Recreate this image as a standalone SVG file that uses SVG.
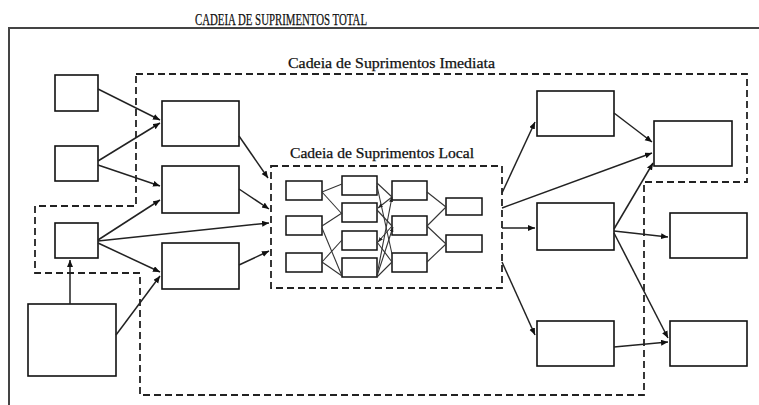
<svg xmlns="http://www.w3.org/2000/svg" width="759" height="405" viewBox="0 0 759 405">
<style>
.box{fill:#fff;stroke:#111;stroke-width:1.6}
.sbox{fill:#fff;stroke:#111;stroke-width:1.5}
.dash{fill:none;stroke:#222;stroke-width:1.8;stroke-dasharray:7 4}
.frame{fill:none;stroke:#444;stroke-width:2}
.arr{fill:none;stroke:#222;stroke-width:1.5;marker-end:url(#ah)}
.ln{fill:none;stroke:#333;stroke-width:1.1}
.lna{fill:none;stroke:#333;stroke-width:1.1;marker-end:url(#ahs)}
.lbl{font-family:"Liberation Serif","Times New Roman",serif;fill:#111;stroke:#111;stroke-width:0.25}
</style>
<defs>
<marker id="ah" markerUnits="userSpaceOnUse" markerWidth="8" markerHeight="7" refX="7" refY="3" orient="auto"><path d="M0,0 L7,3 L0,6 z" fill="#111"/></marker>
<marker id="ahs" markerUnits="userSpaceOnUse" markerWidth="6" markerHeight="5" refX="5" refY="2" orient="auto"><path d="M0,0 L5,2 L0,4 z" fill="#222"/></marker>
</defs>
<rect width="759" height="405" fill="#fff"/>

<g id="total">
<path class="frame" d="M9,405 V28 H759"/>
<text class="lbl" x="195" y="25" font-size="16" textLength="172" lengthAdjust="spacingAndGlyphs">CADEIA DE SUPRIMENTOS TOTAL</text>
</g>

<g id="imediata">
<path class="dash" d="M136,74 H747 V182 H644 V395 H140 V273 H35 V206 H136 Z"/>
<text class="lbl" x="288" y="68" font-size="15" textLength="207" lengthAdjust="spacingAndGlyphs">Cadeia de Suprimentos Imediata</text>
</g>

<g id="local">
<rect class="dash" x="271" y="166" width="231" height="122"/>
<text class="lbl" x="290" y="158" font-size="14" textLength="184" lengthAdjust="spacingAndGlyphs">Cadeia de Suprimentos Local</text>
</g>

<g id="n-a"><rect class="box" x="55" y="75" width="43" height="36"/></g>
<g id="n-b"><rect class="box" x="55" y="146" width="43" height="35"/></g>
<g id="n-c"><rect class="box" x="55" y="223" width="43" height="35"/></g>
<g id="n-d"><rect class="box" x="28" y="304" width="88" height="72"/></g>
<g id="n-e"><rect class="box" x="162" y="101" width="77" height="45"/></g>
<g id="n-f"><rect class="box" x="162" y="166" width="77" height="47"/></g>
<g id="n-g"><rect class="box" x="162" y="243" width="77" height="46"/></g>

<g id="n-l1"><rect class="sbox" x="286" y="181" width="36" height="19"/></g>
<g id="n-l2"><rect class="sbox" x="286" y="216" width="36" height="19"/></g>
<g id="n-l3"><rect class="sbox" x="286" y="253" width="36" height="19"/></g>
<g id="n-l4"><rect class="sbox" x="342" y="176" width="35" height="19"/></g>
<g id="n-l5"><rect class="sbox" x="342" y="203" width="35" height="19"/></g>
<g id="n-l6"><rect class="sbox" x="342" y="231" width="35" height="19"/></g>
<g id="n-l7"><rect class="sbox" x="342" y="258" width="35" height="19"/></g>
<g id="n-l8"><rect class="sbox" x="392" y="181" width="35" height="19"/></g>
<g id="n-l9"><rect class="sbox" x="392" y="216" width="35" height="19"/></g>
<g id="n-l10"><rect class="sbox" x="392" y="253" width="35" height="19"/></g>
<g id="n-l11"><rect class="sbox" x="446" y="198" width="36" height="17"/></g>
<g id="n-l12"><rect class="sbox" x="446" y="235" width="36" height="17"/></g>

<g id="n-h"><rect class="box" x="537" y="91" width="77" height="45"/></g>
<g id="n-i"><rect class="box" x="654" y="121" width="78" height="45"/></g>
<g id="n-j"><rect class="box" x="537" y="203" width="77" height="47"/></g>
<g id="n-k"><rect class="box" x="670" y="213" width="77" height="45"/></g>
<g id="n-l"><rect class="box" x="537" y="321" width="77" height="45"/></g>
<g id="n-m"><rect class="box" x="670" y="321" width="77" height="45"/></g>

<g id="connectors">
<line class="arr" x1="98" y1="89" x2="160" y2="120"/>
<line class="arr" x1="98" y1="161" x2="160" y2="123"/>
<line class="arr" x1="98" y1="165" x2="160" y2="186"/>
<line class="arr" x1="98" y1="240" x2="160" y2="200"/>
<line class="arr" x1="98" y1="241" x2="269" y2="223"/>
<line class="arr" x1="98" y1="243" x2="160" y2="272"/>
<line class="arr" x1="70" y1="304" x2="70" y2="260"/>
<line class="arr" x1="116" y1="335" x2="160" y2="276"/>
<line class="arr" x1="239" y1="136" x2="268" y2="178"/>
<line class="arr" x1="239" y1="189" x2="269" y2="209"/>
<line class="arr" x1="239" y1="265" x2="269" y2="251"/>

<line class="ln" x1="322" y1="192" x2="342" y2="184"/>
<line class="ln" x1="322" y1="192" x2="342" y2="214"/>
<line class="ln" x1="322" y1="226" x2="342" y2="213"/>
<line class="ln" x1="322" y1="228" x2="342" y2="276"/>
<line class="ln" x1="322" y1="262" x2="342" y2="240"/>
<line class="ln" x1="322" y1="262" x2="342" y2="276"/>

<line class="ln" x1="377" y1="183" x2="392" y2="197"/>
<line class="ln" x1="377" y1="186" x2="392" y2="254"/>
<line class="lna" x1="392" y1="197" x2="378" y2="208"/>
<line class="ln" x1="377" y1="210" x2="392" y2="226"/>
<line class="lna" x1="392" y1="226" x2="378" y2="242"/>
<line class="ln" x1="377" y1="242" x2="392" y2="262"/>
<line class="lna" x1="377" y1="275" x2="392" y2="197"/>
<line class="lna" x1="377" y1="276" x2="393" y2="227"/>
<line class="ln" x1="377" y1="277" x2="392" y2="262"/>

<line class="ln" x1="427" y1="192" x2="446" y2="207"/>
<line class="ln" x1="427" y1="226" x2="446" y2="207"/>
<line class="ln" x1="427" y1="226" x2="446" y2="244"/>
<line class="ln" x1="427" y1="262" x2="446" y2="244"/>

<line class="arr" x1="502" y1="193" x2="535" y2="122"/>
<line class="arr" x1="502" y1="208" x2="652" y2="153"/>
<line class="arr" x1="502" y1="228" x2="535" y2="228"/>
<line class="arr" x1="502" y1="262" x2="535" y2="335"/>
<line class="arr" x1="614" y1="113" x2="652" y2="142"/>
<line class="arr" x1="614" y1="229" x2="653" y2="163"/>
<line class="arr" x1="614" y1="231" x2="668" y2="237"/>
<line class="arr" x1="614" y1="233" x2="668" y2="338"/>
<line class="arr" x1="614" y1="347" x2="668" y2="342"/>
</g>
</svg>
